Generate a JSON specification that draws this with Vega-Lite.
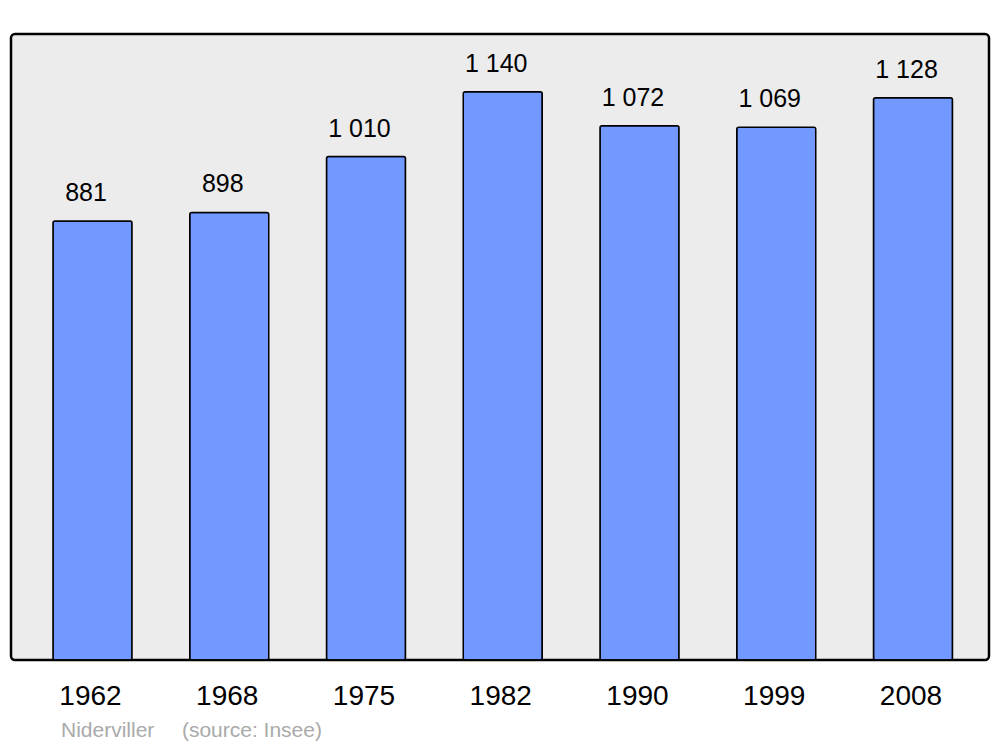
{
  "$schema": "https://vega.github.io/schema/vega-lite/v6.json",
  "autosize": {"type": "none"},
  "width": 978,
  "height": 626,
  "padding": {"left": 11, "top": 34, "right": 11, "bottom": 87},
  "background": "white",
  "config": {
    "locale": {"number": {"decimal": ",", "thousands": " ", "grouping": [3], "currency": ["", " €"]}},
    "view": {"fill": "#ececec", "stroke": "black", "strokeWidth": 2.5, "cornerRadius": 4},
    "font": "Liberation Sans"
  },
  "title": {
    "text": "Niderviller\u00a0\u00a0\u00a0\u00a0\u2009(source: Insee)",
    "orient": "bottom",
    "anchor": "start",
    "dx": 50,
    "offset": 10,
    "fontSize": 21,
    "fontWeight": "normal",
    "color": "#aaaaaa",
    "font": "Liberation Sans"
  },
  "data": {
    "values": [
      {"year": "1962", "population": 881},
      {"year": "1968", "population": 898},
      {"year": "1975", "population": 1010},
      {"year": "1982", "population": 1140},
      {"year": "1990", "population": 1072},
      {"year": "1999", "population": 1069},
      {"year": "2008", "population": 1128}
    ]
  },
  "encoding": {
    "x": {
      "field": "year",
      "type": "ordinal",
      "sort": null,
      "scale": {"paddingInner": 0.4223, "paddingOuter": 0.287, "align": 0.535},
      "axis": {
        "title": null,
        "domain": false,
        "ticks": false,
        "labelAngle": 0,
        "labelFontSize": 28,
        "labelColor": "black",
        "labelPadding": 22,
        "labelFont": "Liberation Sans",
        "labelOffset": -2
      }
    },
    "y": {
      "field": "population",
      "type": "quantitative",
      "scale": {"domain": [0, 1256], "nice": false, "zero": true},
      "axis": null
    }
  },
  "layer": [
    {
      "mark": {"type": "bar", "fill": "#7299ff", "stroke": "black", "strokeWidth": 1.5, "cornerRadius": 2}
    },
    {
      "mark": {"type": "text", "baseline": "alphabetic", "align": "center", "dy": -20, "dx": -6.5, "fontSize": 25, "color": "black", "font": "Liberation Sans"},
      "encoding": {
        "text": {"field": "population", "type": "quantitative", "format": ",d"}
      }
    }
  ]
}
